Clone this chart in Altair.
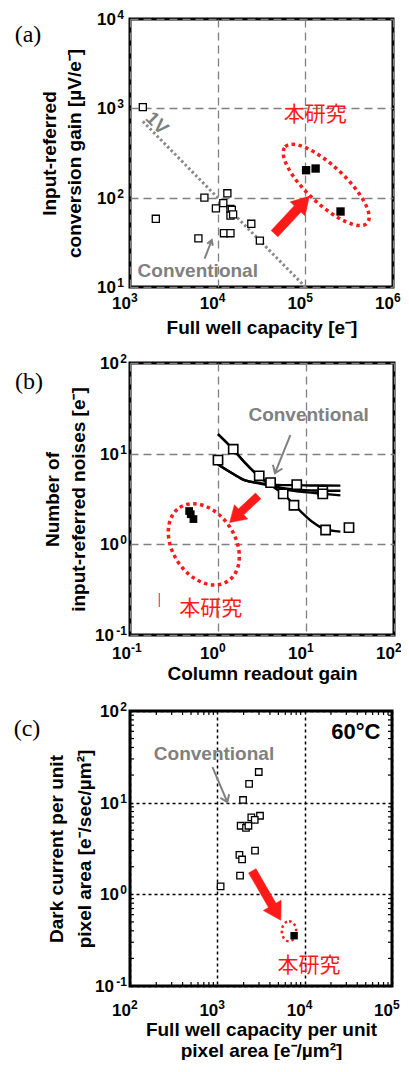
import math
import altair as alt
import pandas as pd

# ---------------- Panel (a): conversion gain vs full well capacity ----------------
a_conv_fwc = [1400, 1970, 7060, 6030, 9550, 11600, 12900, 11800, 14000, 14000, 14500, 14000, 15000, 24200, 30300]
a_conv_gain = [1030, 58, 100, 35, 76, 87, 112, 40, 40, 75, 73, 63, 65, 51, 33]
a_ours_fwc = [102000, 131000, 252000]
a_ours_gain = [203, 212, 70]
a_1v_fwc = [1400, 100000]
a_1v_gain = [714, 10]
a_xticks = [1e3, 1e4, 1e5, 1e6]
a_yticks = [10, 100, 1000, 10000]

# ---------------- Panel (b): input-referred noise vs column gain ----------------
b_conv_gain = [1.0, 1.49, 2.94, 3.96, 7.85, 5.5, 7.3, 15.5, 15.5, 16.7, 30.8]
b_conv_noise = [8.5, 11.2, 5.7, 4.8, 4.55, 3.6, 2.7, 3.9, 3.6, 1.44, 1.53]
b_curve_gain = [1.0, 1.48, 2.0, 2.94, 3.95, 5.5, 7.85, 12, 16, 24.6]
b_curve1 = [16.4, 11.2, 8.1, 5.6, 4.5, 3.6, 2.55, 1.75, 1.48, 1.38]
b_curve2 = [16.4, 11.2, 8.0, 5.6, 4.6, 4.1, 3.85, 3.7, 3.6, 3.47]
b_curve3 = [7.6, 6.0, 5.1, 4.75, 4.55, 4.5, 4.5, 4.45, 4.45, 4.44]
b_curve4 = [7.6, 6.0, 5.1, 4.7, 4.4, 4.15, 4.0, 3.93, 3.9, 3.9]
b_ours_gain = [0.47, 0.49, 0.526]
b_ours_noise = [2.33, 2.15, 1.9]
b_ticks = [0.1, 1, 10, 100]

# ---------------- Panel (c): dark current vs FWC per unit area ----------------
c_conv_fwc = [2980, 2310, 1970, 2450, 3080, 2680, 1850, 2130, 2270, 1790, 1920, 2700, 1820, 1090]
c_conv_dark = [21.6, 16, 10.7, 6.9, 7.2, 6.5, 5.6, 5.3, 5.6, 2.7, 2.4, 3.0, 1.6, 1.22]
c_ours_fwc = [7570]
c_ours_dark = [0.354]
c_xticks = [1e2, 1e3, 1e4, 1e5]
c_yticks = [0.1, 1, 10, 100]
c_minor_x = [m * 10 ** e for e in range(2, 5) for m in range(2, 10)]
c_minor_y = [m * 10.0 ** e for e in range(-1, 2) for m in range(2, 10)]

SANS = "Liberation Sans"
CJK = "Noto Sans CJK JP"
SERIF = "Liberation Serif"
GRAY = "#808080"
RED = "#ff1a1a"


def ellipse_path(ry):
    k = 0.5523
    return (f"M -1 0 C -1 {-k*ry} {-k} {-ry} 0 {-ry} C {k} {-ry} 1 {-k*ry} 1 0 "
            f"C 1 {k*ry} {k} {ry} 0 {ry} C {-k} {ry} -1 {k*ry} -1 0 Z")


def block_arrow(shaft, head_w, head_base):
    return (f"M {-shaft} 1 L {shaft} 1 L {shaft} {head_base} L {head_w} {head_base} "
            f"L 0 -1 L {-head_w} {head_base} L {-shaft} {head_base} Z")


def line_arrow(w, h):
    return f"M 0 1 L 0 -1 M {-w} {-1+h} L 0 -1 L {w} {-1+h}"


def axis(values, title, gcolor, gdash, gwidth, tpad, lh=24):
    return alt.Axis(values=values, labels=False, title=title, grid=True,
                    gridColor=gcolor, gridDash=gdash, gridWidth=gwidth, gridOpacity=1,
                    ticks=False, domain=False, titleFont=SANS,
                    titleFontSize=19, titleFontWeight="bold", titleColor="black",
                    titlePadding=tpad, titleLineHeight=lh)


def enc(xdom, ydom, xax, yax):
    ex = lambda f="x": alt.X(f"{f}:Q", scale=alt.Scale(type="log", domain=xdom, nice=False), axis=xax)
    ey = lambda f="y": alt.Y(f"{f}:Q", scale=alt.Scale(type="log", domain=ydom, nice=False), axis=yax)
    return ex, ey


def df(**kw):
    return pd.DataFrame(kw)


def expo(v):
    return str(int(round(math.log10(v))))


def x_labels(ex, values, ypix):
    d = df(x=values, e=[expo(v) for v in values])
    base = alt.Chart(d).mark_text(font=SANS, fontSize=17, fontWeight="bold", align="right",
                                  baseline="middle", color="black", dx=1).encode(
        x=ex(), y=alt.value(ypix), text=alt.value("10"))
    sup = alt.Chart(d).mark_text(font=SANS, fontSize=12, fontWeight="bold", align="left",
                                 baseline="middle", color="black", dx=1).encode(
        x=ex(), y=alt.value(ypix - 6), text="e:N")
    return [base, sup]


def y_labels(ey, values, right=-5):
    layers = []
    for neg in (False, True):
        vals = [v for v in values if (v < 1) == neg]
        if not vals:
            continue
        d = df(y=vals, e=[expo(v) for v in vals])
        w = 13 if neg else 8
        layers.append(alt.Chart(d).mark_text(font=SANS, fontSize=17, fontWeight="bold", align="right",
                                             baseline="middle", color="black", dy=1).encode(
            y=ey(), x=alt.value(right - w), text=alt.value("10")))
        layers.append(alt.Chart(d).mark_text(font=SANS, fontSize=12, fontWeight="bold", align="right",
                                             baseline="middle", color="black", dy=-4).encode(
            y=ey(), x=alt.value(right), text="e:N"))
    return layers


def panel_label(txt, x, y):
    return alt.Chart(df(t=[txt])).mark_text(font=SERIF, fontSize=24, color="black").encode(
        x=alt.value(x), y=alt.value(y), text="t:N")


def text_at(ex, ey, txt, x, y, **style):
    return alt.Chart(df(x=[x], y=[y], t=[txt])).mark_text(**style).encode(x=ex(), y=ey(), text="t:N")


def symbol_at(ex, ey, x, y, shape, size, angle, **style):
    return alt.Chart(df(x=[x], y=[y])).mark_point(shape=shape, size=size, angle=angle, **style).encode(
        x=ex(), y=ey())


# ============================ Panel (a) ============================
W_A, H_A = 263, 268
ax_a = axis(a_xticks, "Full well capacity [e\u207b]", GRAY, [8, 5], 1.3, 31)
ay_a = axis(a_yticks, ["Input-referred", "conversion gain [\u00b5V/e\u207b]"], GRAY, [8, 5], 1.3, 46, lh=25)
exa, eya = enc([1e3, 1e6], [10, 1e4], ax_a, ay_a)

a_line = alt.Chart(df(x=a_1v_fwc, y=a_1v_gain)).mark_line(
    color="#8a8a8a", strokeWidth=3, strokeDash=[2.5, 2.5]).encode(x=exa(), y=eya())
a_conv = alt.Chart(df(x=a_conv_fwc, y=a_conv_gain)).mark_point(
    shape="square", size=50, filled=True, fill="white", stroke="black", strokeWidth=1.3,
    opacity=1).encode(x=exa(), y=eya())
a_ours = alt.Chart(df(x=a_ours_fwc, y=a_ours_gain)).mark_point(
    shape="square", size=70, filled=True, color="black", opacity=1).encode(x=exa(), y=eya())

panel_a = alt.layer(
    a_line, a_conv, a_ours,
    symbol_at(exa, eya, 173000, 139, ellipse_path(0.34), 112 ** 2, 43,
              filled=False, stroke=RED, strokeWidth=3.5, strokeDash=[3.5, 3.5], opacity=1),
    symbol_at(exa, eya, 70300, 64, block_arrow(0.18, 0.4, -0.33), 51 ** 2, 43,
              filled=True, fill=RED, stroke=RED, strokeWidth=0.5, opacity=1),
    symbol_at(exa, eya, 7800, 26.4, line_arrow(0.3, 0.5), 20 ** 2, 21,
              filled=False, stroke=GRAY, strokeWidth=2, opacity=1),
    text_at(exa, eya, "Conventional", 5930, 15, font=SANS, fontSize=19, fontWeight="bold", color=GRAY),
    text_at(exa, eya, "1V", 2030, 681, font=SANS, fontSize=19, fontWeight="bold", color=GRAY, angle=45),
    text_at(exa, eya, "本研究", 130000, 836, font=CJK, fontSize=21, color=RED),
    *x_labels(exa, a_xticks, H_A + 17),
    *y_labels(eya, a_yticks, -6),
    panel_label("(a)", -102, 16),
).properties(width=W_A, height=H_A)

# ============================ Panel (b) ============================
W_B, H_B = 264, 272
ax_b = axis(b_ticks, "Column readout gain", GRAY, [8, 5], 1.3, 29)
ay_b = axis(b_ticks, ["Number of", "input-referred noises [e\u207b]"], GRAY, [8, 5], 1.3, 42, lh=26)
exb, eyb = enc([0.1, 100], [0.1, 100], ax_b, ay_b)

curves = pd.DataFrame({
    "x": b_curve_gain * 4,
    "y": b_curve1 + b_curve2 + b_curve3 + b_curve4,
    "s": ["1"] * 10 + ["2"] * 10 + ["3"] * 10 + ["4"] * 10,
})
b_lines = alt.Chart(curves).mark_line(color="black", strokeWidth=2.4, interpolate="monotone").encode(
    x=exb(), y=eyb(), detail="s:N")
b_conv = alt.Chart(df(x=b_conv_gain, y=b_conv_noise)).mark_point(
    shape="square", size=85, filled=True, fill="white", stroke="black", strokeWidth=1.6,
    opacity=1).encode(x=exb(), y=eyb())
b_ours = alt.Chart(df(x=b_ours_gain, y=b_ours_noise)).mark_point(
    shape="square", size=60, filled=True, color="black", opacity=1).encode(x=exb(), y=eyb())
b_stray = alt.Chart(df(x=[0.215], y=[0.29], y2=[0.204])).mark_rule(color=RED, strokeWidth=1).encode(
    x=exb(), y=eyb(), y2="y2:Q")

panel_b = alt.layer(
    b_lines, b_conv, b_ours,
    symbol_at(exb, eyb, 0.69, 1.0, ellipse_path(0.71), 88 ** 2, 57,
              filled=False, stroke=RED, strokeWidth=3.5, strokeDash=[3.5, 3.5], opacity=1),
    symbol_at(exb, eyb, 1.97, 2.44, block_arrow(0.2, 0.5, -0.2), 39 ** 2, 227,
              filled=True, fill=RED, stroke=RED, strokeWidth=0.5, opacity=1),
    symbol_at(exb, eyb, 5.43, 9.86, line_arrow(0.25, 0.35), 41 ** 2, 202,
              filled=False, stroke=GRAY, strokeWidth=2, opacity=1),
    b_stray,
    text_at(exb, eyb, "Conventional", 10.7, 26.7, font=SANS, fontSize=19, fontWeight="bold", color=GRAY),
    text_at(exb, eyb, "本研究", 0.826, 0.192, font=CJK, fontSize=21, color=RED),
    *x_labels(exb, b_ticks, H_B + 19),
    *y_labels(eyb, b_ticks, -3),
    panel_label("(b)", -101, 19),
).properties(width=W_B, height=H_B)

# ============================ Panel (c) ============================
W_C, H_C = 262, 275
ax_c = axis(c_xticks, ["Full well capacity per unit", "pixel area [e\u207b/\u00b5m\u00b2]"], "black", [3, 3], 1.5, 34, lh=21)
ay_c = axis(c_yticks, ["Dark current per unit", "pixel area [e\u207b/sec/\u00b5m\u00b2]"], "black", [3, 3], 1.5, 36, lh=28)
exc, eyc = enc([1e2, 1e5], [0.1, 100], ax_c, ay_c)

mx = df(x=c_minor_x)
my = df(y=c_minor_y)
c_minor = [
    alt.Chart(mx).mark_rule(color="black", strokeWidth=1.2).encode(x=exc(), y=alt.value(H_C), y2=alt.value(H_C - 4)),
    alt.Chart(mx).mark_rule(color="black", strokeWidth=1.2).encode(x=exc(), y=alt.value(0), y2=alt.value(4)),
    alt.Chart(my).mark_rule(color="black", strokeWidth=1.2).encode(y=eyc(), x=alt.value(0), x2=alt.value(4)),
    alt.Chart(my).mark_rule(color="black", strokeWidth=1.2).encode(y=eyc(), x=alt.value(W_C), x2=alt.value(W_C - 4)),
]
c_conv = alt.Chart(df(x=c_conv_fwc, y=c_conv_dark)).mark_point(
    shape="square", size=42, filled=True, fill="white", stroke="black", strokeWidth=1.3,
    opacity=1).encode(x=exc(), y=eyc())
c_ours = alt.Chart(df(x=c_ours_fwc, y=c_ours_dark)).mark_point(
    shape="square", size=55, filled=True, color="black", opacity=1).encode(x=exc(), y=eyc())

panel_c = alt.layer(
    *c_minor, c_conv,
    symbol_at(exc, eyc, 6620, 0.395, ellipse_path(0.72), 20 ** 2, 90,
              filled=False, stroke=RED, strokeWidth=2.5, strokeDash=[2.5, 3], opacity=1),
    c_ours,
    symbol_at(exc, eyc, 3660, 0.97, block_arrow(0.15, 0.36, -0.4), 57 ** 2, 150,
              filled=True, fill=RED, stroke=RED, strokeWidth=0.5, opacity=1),
    symbol_at(exc, eyc, 1070, 15.7, line_arrow(0.25, 0.35), 38 ** 2, 157,
              filled=False, stroke=GRAY, strokeWidth=2, opacity=1),
    text_at(exc, eyc, "Conventional", 916, 34, font=SANS, fontSize=19, fontWeight="bold", color=GRAY),
    text_at(exc, eyc, "本研究", 11200, 0.167, font=CJK, fontSize=21, color=RED),
    text_at(exc, eyc, "60°C", 38500, 58.6, font=SANS, fontSize=22, fontWeight="bold", color="black"),
    *x_labels(exc, c_xticks, H_C + 25),
    *y_labels(eyc, c_yticks, -3),
    panel_label("(c)", -103, 18),
).properties(width=W_C, height=H_C)

PAD_L, PAD_T = 122, 11
TOTAL_W, TOTAL_H = 393, 1052
chart = alt.vconcat(panel_a, panel_b, panel_c, spacing=76, bounds="flush").configure(
    font=SANS, autosize=alt.AutoSizeParams(type="none"),
    padding={"left": PAD_L, "top": PAD_T, "right": TOTAL_W - PAD_L, "bottom": TOTAL_H - PAD_T},
).configure_view(stroke="black", strokeWidth=3)

chart.save("out.html", embed_options={"renderer": "svg", "actions": False})
